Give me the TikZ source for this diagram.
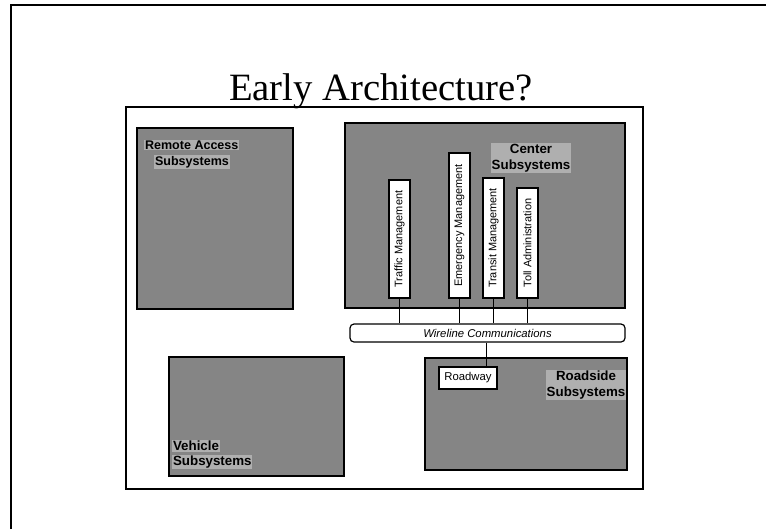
\documentclass[tikz,border=0pt]{standalone}
\usepackage{fontspec}
\setmainfont{Liberation Serif}
\newfontfamily\arialfont{Liberation Sans}
\usetikzlibrary{fit,calc}

\begin{document}
\begin{tikzpicture}[x=0.75pt,y=-0.75pt,
  frameline/.style={line width=1.6pt},
  subsys/.style={draw=black, line width=1.1pt, fill=black!48, inner sep=0pt},
  modbox/.style={draw=black, line width=0.9pt, fill=white, inner sep=0pt},
  modtext/.style={rotate=90, font=\arialfont\fontsize{8.2}{9}\selectfont, inner sep=0pt},
  sublabel/.style={font=\arialfont\bfseries\fontsize{10}{12}\selectfont, inner sep=0.6pt,
    fill=white, fill opacity=0.35, text opacity=1},
  link/.style={line width=0.8pt}]
\useasboundingbox (0,0) rectangle (766,529);

% slide frame
\coordinate (fbl) at (11,529);
\coordinate (ftl) at (11,5);
\coordinate (ftr) at (766,5);
\draw[frameline] (fbl) -- (ftl) -- (ftr);

% title
\node[font=\fontsize{29}{32}\selectfont, anchor=base, inner sep=0pt] (title) at (381,100) {Early Architecture?};

% picture frame
\node[draw=black, line width=2pt, inner sep=0pt, fit={(126,107) (643,489)}] (pic) {};

% subsystem blocks
\node[subsys, fit={(137,128) (293,309)}] (remote) {};
\node[subsys, fit={(345,123) (625,308)}] (center) {};
\node[subsys, fit={(169,357) (344,476)}] (vehicle) {};
\node[subsys, fit={(425,358) (627,470)}] (roadside) {};

\node[sublabel, anchor=west, font=\arialfont\bfseries\fontsize{9.4}{11}\selectfont] (rlab1) at (144,145) {Remote Access};
\node[sublabel, anchor=west, font=\arialfont\bfseries\fontsize{9.4}{11}\selectfont] (rlab2) at (154,162) {Subsystems};
\node[sublabel, align=center] (clab) at (531,158) {Center\\Subsystems};
\node[sublabel, anchor=west] (vlab1) at (172,446) {Vehicle};
\node[sublabel, anchor=west] (vlab2) at (172,462) {Subsystems};
\node[sublabel, align=center] (rslab) at (586,385) {Roadside\\Subsystems};

% center modules
\node[modbox, fit={(389,180) (410,298)}] (traffic) {};
\node[modbox, fit={(449,153) (470,298)}] (emergency) {};
\node[modbox, fit={(483,178) (504,298)}] (transit) {};
\node[modbox, fit={(517,188) (538,298)}] (toll) {};
\node[modtext] at (traffic.center) {Traffic Management};
\node[modtext] at (emergency.center) {Emergency Management};
\node[modtext] at (transit.center) {Transit Management};
\node[modtext] at (toll.center) {Toll Administration};

% communications bus
\node[draw=black, line width=0.9pt, rounded corners=3pt, fill=white, inner sep=0pt,
  fit={(350,324) (625,342)}] (wire) {};
\node[font=\arialfont\itshape\fontsize{8.5}{10}\selectfont] at (wire.center) {Wireline Communications};

% roadway module
\node[modbox, line width=1pt, fit={(439,367) (497,389)}] (roadway) {};
\node[font=\arialfont\fontsize{8.5}{10}\selectfont] at (roadway.center) {Roadway};

% links
\draw[link] (traffic.south) -- (traffic.south |- wire.north);
\draw[link] (emergency.south) -- (emergency.south |- wire.north);
\draw[link] (transit.south) -- (transit.south |- wire.north);
\draw[link] (toll.south) -- (toll.south |- wire.north);
\coordinate (rwin) at ($(roadway.north west)!0.81!(roadway.north east)$);
\draw[link] (wire.south -| rwin) -- (rwin);
\end{tikzpicture}
\end{document}
